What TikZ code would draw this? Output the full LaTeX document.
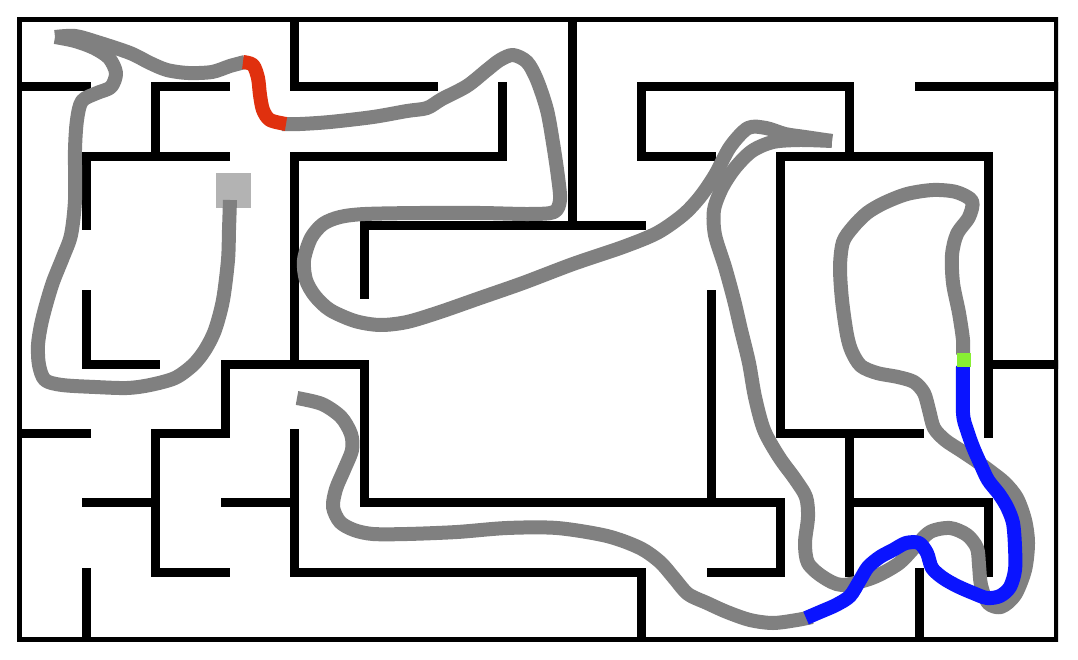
\documentclass[tikz,border=0pt]{standalone}
\definecolor{trailgrey}{HTML}{808080}
\definecolor{startgrey}{HTML}{B3B3B3}
\definecolor{trailred}{HTML}{E0300E}
\definecolor{trailblue}{HTML}{0A14FF}
\definecolor{trailgreen}{HTML}{88EE33}
\tikzset{
  wall/.style={line width=9pt, line cap=rect, black},
  trail/.style={line width=14pt, line cap=butt, line join=round, trailgrey},
}
\begin{document}
\begin{tikzpicture}[x=1pt,y=-1pt]
\useasboundingbox (0,0) rectangle (1078,660);
\fill[white] (0,0) rectangle (1078,660);
% maze walls
\begin{scope}[shift={(17,17.5)}, x=69.4pt, y=-69.35pt]
\clip (0,0) rectangle (15,9);
\draw[wall] (0,0) rectangle (15,9);
\draw[wall] (0,1)--(1,1) (2,1)--(3,1) (4,1)--(6,1) (9,1)--(12,1) (13,1)--(15,1);
\draw[wall] (1,2)--(3,2) (4,2)--(7,2) (9,2)--(10,2) (11,2)--(14,2);
\draw[wall] (5,3)--(9,3);
\draw[wall] (1,5)--(2,5) (3,5)--(5,5) (14,5)--(15,5);
\draw[wall] (0,6)--(1,6) (2,6)--(3,6) (11,6)--(13,6);
\draw[wall] (1,7)--(2,7) (3,7)--(4,7) (5,7)--(11,7) (12,7)--(14,7);
\draw[wall] (2,8)--(3,8) (4,8)--(9,8) (10,8)--(11,8);
\draw[wall] (1,2)--(1,3) (1,4)--(1,5) (1,8)--(1,9);
\draw[wall] (2,1)--(2,2) (2,6)--(2,8);
\draw[wall] (3,5)--(3,6);
\draw[wall] (4,0)--(4,1) (4,2)--(4,5) (4,6)--(4,8);
\draw[wall] (5,3)--(5,4) (5,5)--(5,7);
\draw[wall] (7,1)--(7,2);
\draw[wall] (8,0)--(8,3);
\draw[wall] (9,1)--(9,2) (9,8)--(9,9);
\draw[wall] (10,4)--(10,7);
\draw[wall] (11,2)--(11,6) (11,7)--(11,8);
\draw[wall] (12,1)--(12,2) (12,6)--(12,8);
\draw[wall] (13,8)--(13,9);
\draw[wall] (14,2)--(14,6) (14,7)--(14,8);
\end{scope}
% start marker
\fill[startgrey] (216,173) rectangle (251,208);
% grey trail
\draw[trail] plot[smooth, tension=0.5] coordinates {
 (230,200) (229,230) (228,260) (223,300) (215,330) (205,350) (193,365) (175,378)
 (150,385) (127,388) (95,387) (62,385) (45,380) (39,365) (38,345) (41,325)
 (46,305) (53,282) (63,257) (71,235) (75,200) (75,150) (77,120) (82,101)
 (97,93) (111,87) (116,73) (109,58) (94,48) (75,41) (55,37)};
\draw[trail] plot[smooth, tension=0.5] coordinates {
 (55,37) (75,36) (97,42) (130,53) (150,63) (167,70) (188,73) (212,72) (230,66) (245,62)};
\draw[trail] plot[smooth, tension=0.5] coordinates {
 (282,124) (300,124) (330,122) (373,117) (407,111) (427,108) (442,99) (467,86)
 (487,70) (500,60) (513,55) (527,62) (537,80) (547,110) (553,143) (558,177)
 (560,200) (554,212) (530,214) (480,213) (420,213) (365,214) (340,217) (323,224)
 (311,238) (304,260) (306,280) (315,296) (330,310) (355,321) (380,325) (407,322)
 (440,312) (480,298) (523,283) (573,264) (623,247) (657,233) (683,215) (700,197)
 (715,175) (730,147) (748,128) (766,128) (785,134) (805,137) (832,141)};
\draw[trail] plot[smooth, tension=0.5] coordinates {
 (832,141) (800,140) (773,142) (752,151) (735,168) (722,188) (714,210) (715,235)
 (725,267) (734,300) (741,330) (749,363) (755,397) (764,430) (779,457) (795,479)
 (806,497) (808,517) (805,543) (808,563) (823,577) (842,585) (872,578) (898,564)
 (914,548) (930,532) (950,528) (967,535) (977,548) (979,565) (981,585) (988,603)
 (1001,607) (1015,595) (1025,570) (1028,543) (1025,520) (1017,498) (1005,483)
 (990,471) (975,460) (960,450) (945,440) (934,428) (929,410) (924,393) (914,382)
 (898,377) (877,373) (861,366) (852,352) (847,335) (842,300) (840,267) (843,242)
 (853,227) (867,213) (884,203) (907,194) (933,190) (956,192) (972,201) (969,217)
 (957,234) (952,255) (953,283) (959,313) (963,340) (963,355)};
\draw[trail] plot[smooth, tension=0.5] coordinates {
 (812,617) (797,620) (773,623) (750,620) (727,612) (707,603) (688,594) (674,578)
 (660,562) (640,548) (607,536) (557,528) (507,528) (457,532) (407,534) (373,534)
 (354,530) (340,522) (333,507) (336,489) (344,470) (352,450) (351,434) (341,417)
 (322,404) (297,398)};
% red segment
\draw[trail, trailred] plot[smooth, tension=0.5] coordinates {
 (243,62) (253,65) (258,78) (260,95) (263,110) (270,120) (286,124)};
% blue segment
\draw[trail, trailblue] plot[smooth, tension=0.5] coordinates {
 (963,366) (963,413) (967,430) (973,447) (980,463) (988,480) (999,494) (1007,507)
 (1013,523) (1015,547) (1015,570) (1010,587) (1000,596) (987,598) (973,593)
 (957,586) (943,578) (932,568) (927,553) (919,543) (906,543) (893,550) (880,557)
 (868,567) (860,580) (850,596) (836,605) (820,612) (806,618)};
% current position
\fill[trailgreen] (957,353) rectangle (971,367);
\end{tikzpicture}
\end{document}
